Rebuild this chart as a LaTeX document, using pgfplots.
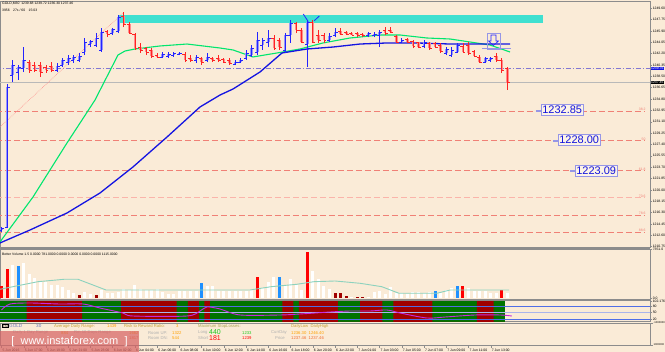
\documentclass[border=0pt]{standalone}
\usepackage{pgfplots}
\pgfplotsset{compat=1.18}
\usepackage{pgfplotstable}
\usepackage{fontspec}
\setmainfont{Liberation Sans}
\definecolor{bg}{RGB}{250,235,215}
\definecolor{frame}{RGB}{140,140,140}
\definecolor{upw}{RGB}{35,35,255}
\definecolor{upb}{RGB}{150,150,250}
\definecolor{dnw}{RGB}{255,35,35}
\definecolor{dnb}{RGB}{255,140,140}
\definecolor{maG}{RGB}{0,230,110}
\definecolor{maB}{RGB}{20,20,225}
\definecolor{cyanr}{RGB}{64,224,208}
\definecolor{fibc}{RGB}{240,128,118}
\definecolor{fibl}{RGB}{250,180,170}
\definecolor{dashc}{RGB}{130,120,210}
\definecolor{curc}{RGB}{185,185,185}
\definecolor{volb}{RGB}{30,144,255}
\definecolor{volr}{RGB}{255,0,0}
\definecolor{vold}{RGB}{160,0,0}
\definecolor{volma}{RGB}{140,210,190}
\definecolor{bandg}{RGB}{0,115,0}
\definecolor{bandr}{RGB}{160,0,0}
\definecolor{osc}{RGB}{200,40,220}
\definecolor{lvl}{RGB}{80,110,230}
\definecolor{lvll}{RGB}{170,180,235}
\definecolor{boxc}{RGB}{150,150,230}
\definecolor{boxt}{RGB}{20,20,220}
\definecolor{gold}{RGB}{200,160,50}
\definecolor{olive}{RGB}{170,165,80}
\definecolor{orng}{RGB}{255,160,0}
\definecolor{orr}{RGB}{240,110,50}
\definecolor{lgray}{RGB}{175,175,175}
\definecolor{grn}{RGB}{30,200,30}
\definecolor{wm}{RGB}{215,100,100}
\newcommand{\tf}{\fontsize{3.4}{4}\selectfont}

\pgfplotstableread{
j o h l c
0 1213.46 1213.95 1213.14 1213.79
1 1213.95 1237.25 1213.79 1236.76
2 1238.71 1241.16 1237.57 1240.34
3 1239.20 1240.34 1237.90 1240.02
4 1239.85 1243.27 1239.20 1241.16
10 1239.53 1240.67 1239.20 1240.18
11 1240.34 1241.48 1240.02 1241.16
12 1240.83 1241.97 1240.34 1241.48
13 1241.16 1241.97 1240.67 1241.65
14 1241.16 1242.30 1240.83 1241.81
15 1242.46 1244.74 1241.97 1244.09
16 1243.76 1244.41 1243.27 1244.25
17 1243.60 1245.55 1243.27 1244.74
18 1242.79 1246.37 1242.46 1245.72
20 1245.55 1246.37 1245.23 1246.21
21 1245.88 1248.49 1245.55 1248.16
29 1241.65 1242.46 1241.48 1242.13
30 1241.81 1242.46 1241.48 1242.13
31 1241.97 1242.46 1241.65 1242.30
32 1242.13 1242.46 1241.97 1242.30
35 1241.16 1241.97 1240.67 1241.65
37 1241.16 1242.30 1240.83 1241.65
42 1240.50 1241.16 1240.34 1240.83
43 1240.83 1241.48 1240.67 1241.16
44 1241.48 1242.79 1241.16 1242.30
45 1241.97 1243.60 1241.65 1243.11
46 1242.46 1245.72 1241.97 1244.41
47 1243.60 1244.74 1242.79 1244.41
48 1244.09 1246.04 1243.27 1244.74
51 1242.79 1245.55 1242.30 1245.23
52 1245.23 1247.67 1243.93 1247.18
55 1243.76 1247.67 1240.02 1247.35
59 1244.41 1245.55 1244.09 1245.07
60 1245.23 1246.37 1244.90 1245.72
66 1245.23 1245.72 1244.90 1245.55
67 1245.23 1245.72 1244.90 1245.39
68 1245.23 1246.04 1243.27 1245.72
72 1244.09 1244.74 1243.93 1244.41
76 1243.44 1244.41 1243.11 1244.09
80 1242.30 1243.27 1241.97 1242.95
81 1241.97 1243.27 1241.65 1242.79
82 1242.46 1243.93 1242.30 1243.60
87 1240.83 1241.65 1240.67 1241.48
88 1241.16 1241.65 1240.83 1241.48
}\upbars

\pgfplotstableread{
j o h l c
5 1240.83 1241.16 1239.04 1239.53
6 1240.34 1240.83 1239.20 1239.53
7 1240.34 1240.83 1238.39 1239.20
8 1240.02 1240.34 1239.04 1239.53
9 1240.18 1240.83 1239.20 1239.53
19 1245.88 1246.04 1244.90 1245.39
22 1248.32 1248.98 1246.53 1247.02
23 1247.02 1247.35 1245.55 1245.50
24 1245.39 1245.55 1242.79 1243.11
25 1243.27 1243.93 1242.30 1242.79
26 1243.11 1243.27 1241.97 1242.46
27 1242.79 1243.11 1241.48 1241.81
28 1241.97 1242.30 1241.48 1241.65
33 1242.13 1242.46 1240.83 1241.16
34 1241.48 1241.97 1240.83 1241.16
36 1241.48 1241.65 1240.34 1240.83
38 1241.48 1241.65 1240.83 1241.16
39 1241.48 1241.97 1240.83 1241.16
40 1241.32 1241.48 1240.67 1240.83
41 1241.16 1241.48 1240.34 1240.67
49 1244.74 1245.23 1242.79 1243.11
50 1244.41 1244.74 1242.79 1243.27
53 1247.18 1247.35 1245.55 1246.04
54 1246.04 1246.37 1243.93 1244.09
56 1247.35 1247.67 1243.93 1244.09
57 1245.23 1246.04 1243.93 1244.41
58 1245.23 1245.55 1243.93 1244.41
61 1245.88 1246.37 1245.23 1245.39
62 1245.72 1245.88 1245.23 1245.39
63 1245.55 1245.72 1245.23 1245.23
64 1245.55 1245.72 1244.90 1245.23
65 1245.39 1245.55 1244.90 1245.23
69 1246.04 1246.53 1245.23 1245.55
70 1246.04 1246.53 1245.55 1245.72
71 1245.07 1245.23 1243.93 1244.09
73 1244.58 1244.74 1243.93 1244.09
74 1244.25 1244.41 1243.11 1243.44
75 1244.09 1244.09 1243.11 1243.27
77 1243.93 1244.09 1242.79 1243.11
78 1243.93 1244.09 1243.11 1243.27
79 1243.60 1243.93 1242.30 1242.62
83 1243.44 1243.93 1242.30 1242.46
84 1243.60 1244.09 1241.97 1242.30
85 1242.62 1242.79 1241.65 1241.81
86 1241.65 1241.97 1240.67 1240.83
89 1241.81 1242.30 1240.83 1241.16
90 1241.16 1241.48 1239.04 1239.53
91 1239.85 1240.02 1236.30 1237.46
}\dnbars

\pgfplotsset{panel/.style={scale only axis, width=650pt, xmin=-0.27, xmax=116.64,
  axis line style={draw=frame, line width=0.6pt},
  tick style={draw=frame, line width=0.4pt}, tick align=outside, major tick length=2pt,
  ytick pos=right, yticklabel pos=right,
  tick label style={font=\tf, inner sep=0.6pt}, clip=true}}

\begin{document}
\begin{tikzpicture}[x=1pt,y=1pt]
\path[use as bounding box, fill=bg] (0,0) rectangle (665,352);

% ---------------- main price panel ----------------
\begin{axis}[panel, at={(0pt,105pt)}, anchor=south west, height=246pt,
  ymin=1210.69, ymax=1250.77, xtick=\empty,
  ytick={1210.75,1212.60,1214.45,1216.30,1218.15,1220.00,1221.85,1223.70,1225.55,1227.40,1229.25,1231.10,1232.95,1234.80,1236.65,1238.50,1240.35,1242.20,1244.05,1245.90,1247.75,1249.60},
  yticklabel style={/pgf/number format/fixed,/pgf/number format/fixed zerofill,/pgf/number format/precision=2,/pgf/number format/1000 sep={},/pgf/number format/assume math mode=true}]
\addplot[fill=cyanr, draw=none] coordinates {(20.95,1247.18) (97.39,1247.18) (97.39,1248.49) (20.95,1248.49)} -- cycle;
\addplot[fibc, line width=0.8pt, dash pattern=on 6pt off 3pt] coordinates {(-1,1232.85) (115.7,1232.85)};
\addplot[fibc, line width=0.8pt, dash pattern=on 6pt off 3pt] coordinates {(-1,1228.00) (115.7,1228.00)};
\addplot[fibc, line width=0.8pt, dash pattern=on 6pt off 3pt] coordinates {(-1,1223.09) (115.7,1223.09)};
\addplot[fibl, line width=1.5pt, dash pattern=on 6pt off 3pt] coordinates {(-1,1218.72) (115.7,1218.72)};
\addplot[fibc, line width=0.8pt, dash pattern=on 6pt off 3pt] coordinates {(-1,1215.91) (115.7,1215.91)};
\addplot[fibc, line width=0.8pt, dash pattern=on 6pt off 3pt] coordinates {(-1,1213.14) (115.7,1213.14)};
\addplot[dashc, line width=0.7pt, dash pattern=on 5pt off 2pt on 1pt off 2pt] coordinates {(-1,1239.76) (117,1239.76)};
\addplot[curc, line width=0.8pt] coordinates {(-1,1237.46) (117,1237.46)};
\addplot[dnb, line width=0.6pt, densely dotted] coordinates {(-0.27,1230.24) (21.85,1248.81)};
\addplot[maG, line width=1.1pt] coordinates {(-0.27,1211.51) (5.67,1218.84) (11.78,1227.64) (14.48,1231.38) (16.82,1234.64) (20.95,1241.97) (22.21,1242.62) (24.01,1242.95) (28.5,1243.44) (33.36,1243.76) (39.3,1243.11) (41.64,1242.79) (45.23,1241.65) (49.55,1242.30) (53.69,1242.95) (57.82,1243.93) (62.68,1244.74) (68.07,1245.23) (71.67,1245.23) (76.53,1244.74) (80.67,1244.58) (84.26,1244.09) (87.86,1243.60) (91.46,1242.46)};
\addplot[maB, line width=1.3pt] coordinates {(-0.27,1211.35) (5.13,1213.46) (11.78,1216.23) (17.72,1219.49) (23.65,1223.73) (29.77,1228.61) (35.70,1233.50) (39.30,1235.45) (41.64,1236.43) (46.49,1239.20) (50.45,1242.30) (54.95,1242.95) (59.62,1243.27) (64.48,1243.76) (69.33,1243.93) (74.73,1243.93) (80.67,1243.76) (86.06,1243.76) (91.46,1243.76)};
\addplot[upb, line width=2.6pt, quiver={u=0,v=\thisrow{c}-\thisrow{o}}] table[x=j,y=o]{\upbars};
\addplot[upw, line width=0.8pt, quiver={u=0,v=\thisrow{h}-\thisrow{l}}] table[x=j,y=l]{\upbars};
\addplot[upw, line width=0.8pt, quiver={u=-0.45,v=0}] table[x=j,y=o]{\upbars};
\addplot[upw, line width=0.8pt, quiver={u=0.45,v=0}] table[x=j,y=c]{\upbars};
\addplot[dnb, line width=2.6pt, quiver={u=0,v=\thisrow{c}-\thisrow{o}}] table[x=j,y=o]{\dnbars};
\addplot[dnw, line width=0.8pt, quiver={u=0,v=\thisrow{h}-\thisrow{l}}] table[x=j,y=l]{\dnbars};
\addplot[dnw, line width=0.8pt, quiver={u=-0.45,v=0}] table[x=j,y=o]{\dnbars};
\addplot[dnw, line width=0.8pt, quiver={u=0.45,v=0}] table[x=j,y=c]{\dnbars};
\addplot[upw, line width=0.8pt] coordinates {(54.28,1248.65) (55.18,1247.40)};
\addplot[upw, line width=0.8pt] coordinates {(57.16,1248.32) (56.26,1247.56)};
\addplot[boxc, line width=0.7pt] coordinates {(87.3,1245.55) (89.66,1245.55) (89.66,1242.95) (87.3,1242.95)} -- cycle;
\addplot[upw, line width=0.6pt] coordinates {(88.04,1245.23) (88.94,1245.23) (88.94,1244.25) (89.39,1244.25) (88.49,1243.52) (87.59,1244.25) (88.04,1244.25)} -- cycle;
\addplot[boxc, line width=0.8pt] coordinates {(86.5,1243.11) (91.6,1243.11)};
\end{axis}

% ---------------- volume panel ----------------
\begin{axis}[panel, at={(0pt,53pt)}, anchor=south west, height=50pt,
  ymin=-150, ymax=7350, xtick=\empty, ytick={0,7350}, yticklabels={0.0,7351.0}]
\addplot[ycomb, white, line width=3pt] coordinates {(2,4950) (4,5250) (5,3600) (6,3000) (7,2400) (8,2400) (9,1950) (10,1950) (11,1650) (12,1200) (13,750) (15,900) (16,600) (18,1200) (19,750) (20,750) (21,900) (22,1350) (23,1200) (24,1950) (25,1350) (26,1200) (27,1200) (28,1350) (29,900) (30,600) (31,600) (32,1050) (33,1050) (34,1050) (35,1050) (37,1800) (38,1800) (39,1050) (40,1050) (41,1050) (42,1050) (43,1050) (44,1050) (45,1200) (47,1500) (48,2400) (49,3150) (51,1950) (52,2850) (53,1950) (54,1200) (56,4050) (57,2850) (58,1800) (59,1350) (63,150) (66,150) (67,900) (68,1050) (69,600) (70,1650) (71,750) (72,750) (73,600) (74,900) (75,900) (76,750) (77,900) (79,750) (80,1200) (81,1500) (84,1500) (85,1050) (86,1050) (87,1050) (88,750) (89,750) (91,750)};
\addplot[ycomb, volr, line width=3pt] coordinates {(0,1800) (1,4350) (46,3150) (55,6900) (83,1800) (90,1200)};
\addplot[ycomb, volb, line width=3pt] coordinates {(3,4800) (36,2250) (50,3150) (78,1050) (82,1800)};
\addplot[ycomb, vold, line width=3pt] coordinates {(14,450) (17,450) (60,750) (61,750) (62,300) (64,150) (65,150)};
\addplot[volma, line width=0.9pt] coordinates {(-0.27,1305) (6.56,2445) (11.24,2805) (13.76,2805) (18.8,1200) (44.7,1200) (48.5,1695) (53.1,2055) (56.2,2445) (60.0,2550) (64.5,2205) (68.4,1695) (71.5,705) (78.3,705) (80.7,1200) (91.3,1200)};
\end{axis}

% ---------------- oscillator panel ----------------
\begin{axis}[panel, at={(0pt,30pt)}, anchor=south west, height=21pt,
  ymin=6.16, ymax=103.1, xtick=\empty, ytick={103,80,50,20}, yticklabels={102.176,80,50,20},
  axis line style={draw=frame, line width=1pt}]
\addplot[fill=bandg, draw=none] coordinates {(-0.27,0) (90.5,0) (90.5,110) (-0.27,110)} -- cycle;
\addplot[const plot, fill=bandr, draw=none] coordinates {(-0.27,0) (4.5,110) (14.5,0) (21.5,110) (31.5,0) (33.5,110) (35.5,0) (36.5,110) (37.5,0) (50.5,110) (52.5,0) (53.5,110) (60.5,0) (64.5,110) (68.5,0) (70.5,110) (77.5,0) (85.5,110) (88.5,0) (90.5,0)} \closedcycle;
\addplot[lvl, line width=0.8pt] coordinates {(-1,80) (117,80)};
\addplot[lvll, line width=0.8pt] coordinates {(-1,50) (117,50)};
\addplot[lvl, line width=0.8pt] coordinates {(-1,20) (117,20)};
\addplot[osc, line width=0.9pt, smooth] coordinates {(0,61.5) (1.53,89.2) (5.13,93.8) (10.5,89.2) (14.66,89.2) (17.7,70.8) (21.85,47.7) (23.65,33.8) (33.36,33.8) (35.7,56.9) (36.96,75.4) (39.3,66.2) (42.9,38.5) (50.1,38.5) (53.7,43.1) (59.1,52.3) (62.7,56.9) (66.3,56.9) (69.3,61.5) (71.7,47.7) (76.5,24.6) (79.8,29.2) (85.2,38.5) (89.7,38.5) (91.8,33.8)};
\end{axis}

% ---------------- info panel with date axis ----------------
\begin{axis}[panel, at={(0pt,7pt)}, anchor=south west, height=22pt,
  ymin=0, ymax=1, ytick={0,1}, yticklabels={1000000,-1000000},
  yticklabel style={font=\fontsize{2.7}{3}\selectfont, inner sep=0.3pt},
  xtick={0,4,...,88}, xtick pos=bottom, major tick length=3pt,
  xticklabels={5 Jun 2016,5 Jun 17:00,5 Jun 19:00,5 Jun 21:00,5 Jun 23:00,6 Jun 02:00,6 Jun 04:00,6 Jun 06:00,6 Jun 08:00,6 Jun 10:00,6 Jun 12:00,6 Jun 14:00,6 Jun 16:00,6 Jun 18:00,6 Jun 20:00,6 Jun 22:00,7 Jun 01:00,7 Jun 03:00,7 Jun 05:00,7 Jun 07:00,7 Jun 09:00,7 Jun 11:00,7 Jun 13:00},
  xticklabel style={anchor=north west, xshift=0.3pt}]
\addplot[draw=none] coordinates {(0,0.5)};
\end{axis}

\draw[frame, line width=1.6pt] (0,104) -- (650,104);
\draw[frame, line width=1.2pt] (0,52) -- (650,52);

\node[anchor=west, font=\tf, inner sep=0] at (2,348) {GOLD,M30\ \ 1239.68 1239.72 1236.30 1237.46};
\node[anchor=west, font=\tf, inner sep=0] at (2,342) {3956\quad 27s / 60\quad 15:03};
\node[anchor=west, font=\tf, inner sep=0] at (2,98) {Better Volume 1.5 0.0000 781.0000 0.0000 0.0000 0.0000 0.0000 1115.0000};

\draw[boxc, line width=1.2pt] (536,241) -- (541,241);
\draw[boxc, line width=1.2pt] (553,211) -- (558,211);
\draw[boxc, line width=1.2pt] (570,181) -- (575,181);
\node[draw=boxc, fill=bg!60!white, text=boxt, font=\fontsize{11}{12}\selectfont, inner xsep=1pt, inner ysep=1.6pt, line width=0.6pt, anchor=west] at (541,242) {1232.85};
\node[draw=boxc, fill=bg!60!white, text=boxt, font=\fontsize{11}{12}\selectfont, inner xsep=1pt, inner ysep=1.6pt, line width=0.6pt, anchor=west] at (558,212) {1228.00};
\node[draw=boxc, fill=bg!60!white, text=boxt, font=\fontsize{11}{12}\selectfont, inner xsep=1pt, inner ysep=1.6pt, line width=0.6pt, anchor=west] at (575,181.5) {1223.09};

\foreach \yy/\tt in {241/38.2, 211/50, 181/61.8, 154.3/70.6, 137/78.6, 120/88.6}
  \node[anchor=south east, font=\tf, text=fibc, inner sep=0.3pt] at (646,\yy) {\tt};

\node[anchor=west, fill=maB, text=white, font=\tf, inner sep=0.5pt] at (650.5,283.4) {1239.76};
\node[anchor=west, fill=black, text=white, font=\tf, inner sep=0.5pt] at (650.5,269.3) {1237.46};

\node[anchor=west, draw=black, font=\tf, inner sep=0.4pt] at (2,26) {TSI};
\node[anchor=west, font=\fontsize{4.6}{5}\selectfont, text=lvl!60!gray, inner sep=0] at (9,26) {GOLD};
\node[anchor=west, font=\fontsize{4.6}{5}\selectfont, text=lvl!60!gray, inner sep=0] at (36,26) {30};
\node[anchor=west, font=\fontsize{4.2}{5}\selectfont, text=gold, inner sep=0] at (54,26) {Average Daily Range:};
\node[anchor=west, font=\fontsize{4.2}{5}\selectfont, text=orng, inner sep=0] at (107,26) {1439};
\node[anchor=west, font=\fontsize{4.2}{5}\selectfont, text=gold, inner sep=0] at (124,26) {Risk to Reward Ratio:};
\node[anchor=west, font=\fontsize{4.2}{5}\selectfont, text=orng, inner sep=0] at (176,26) {3};
\node[anchor=west, font=\fontsize{4.2}{5}\selectfont, text=olive, inner sep=0] at (198,26) {Maximum StopLosses:};
\node[anchor=west, font=\fontsize{4.2}{5}\selectfont, text=gold, inner sep=0] at (291,26) {DailyLow\ \ DailyHigh};

\node[anchor=west, font=\fontsize{4.2}{5}\selectfont, text=lgray, inner sep=0] at (13,19.3) {Daily 1 Day Range};
\node[anchor=west, font=\fontsize{4.2}{5}\selectfont, text=orng, inner sep=0] at (61,19.3) {884};
\node[anchor=west, font=\fontsize{4.2}{5}\selectfont, text=lgray, inner sep=0] at (74,19.3) {Rm 10 Days Range};
\node[anchor=west, font=\fontsize{4.2}{5}\selectfont, text=orng, inner sep=0] at (129,19.3) {1662};
\node[anchor=west, font=\fontsize{4.2}{5}\selectfont, text=lgray, inner sep=0] at (148,19.3) {Room UP:};
\node[anchor=west, font=\fontsize{4.2}{5}\selectfont, text=orng, inner sep=0] at (172,19.3) {1322};
\node[anchor=west, font=\fontsize{4.2}{5}\selectfont, text=lgray, inner sep=0] at (198,19.3) {Long};
\node[anchor=west, font=\fontsize{7}{8}\selectfont, text=grn, inner sep=0] at (209,20.3) {440};
\node[anchor=west, font=\fontsize{4.2}{5}\selectfont, text=grn, inner sep=0] at (242,19.3) {1233};
\node[anchor=west, font=\fontsize{4.2}{5}\selectfont, text=lgray, inner sep=0] at (271,19.3) {CurrDay};
\node[anchor=west, font=\fontsize{4.2}{5}\selectfont, text=orng, inner sep=0] at (291,19.3) {1236.30\ \ 1246.40};

\node[anchor=west, font=\fontsize{4.2}{5}\selectfont, text=orr, inner sep=0] at (129,14.3) {1817};
\node[anchor=west, font=\fontsize{4.2}{5}\selectfont, text=lgray, inner sep=0] at (148,14.3) {Room DN:};
\node[anchor=west, font=\fontsize{4.2}{5}\selectfont, text=orng, inner sep=0] at (172,14.3) {544};
\node[anchor=west, font=\fontsize{4.2}{5}\selectfont, text=lgray, inner sep=0] at (198,14.3) {Short};
\node[anchor=west, font=\fontsize{7}{8}\selectfont, text=volr, inner sep=0] at (209,13.6) {181};
\node[anchor=west, font=\fontsize{4.2}{5}\selectfont, text=volr, inner sep=0] at (242,14.3) {1239};
\node[anchor=west, font=\fontsize{4.2}{5}\selectfont, text=lgray, inner sep=0] at (275,14.3) {Price};
\node[anchor=west, font=\fontsize{4.2}{5}\selectfont, text=orr, inner sep=0] at (291,14.3) {1237.46\ \ 1237.46};

\fill[wm, opacity=0.72] (0,0) rectangle (139,21);
\node[font=\fontsize{11}{12}\selectfont, text=white, inner sep=0] at (69.5,10.5) {[\ \ www.instaforex.com\ \ ]};
\end{tikzpicture}
\end{document}
